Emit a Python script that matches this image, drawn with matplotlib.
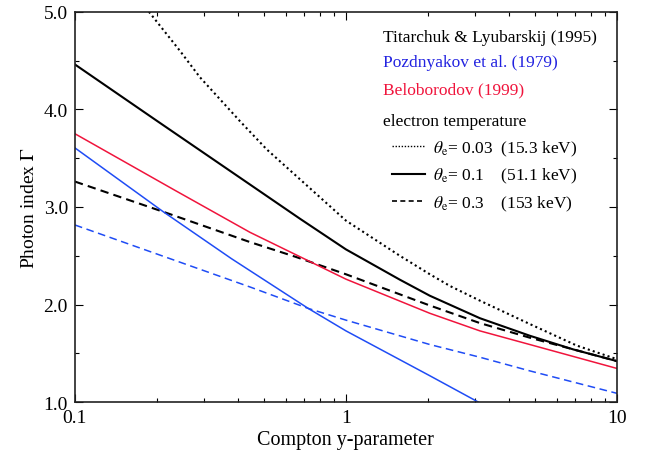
import matplotlib
matplotlib.use("Agg")
import matplotlib.pyplot as plt
from matplotlib.lines import Line2D
from matplotlib.ticker import FixedLocator, FuncFormatter, MultipleLocator, LogLocator

plt.rcParams["font.family"] = ["Liberation Serif", "DejaVu Serif"]
plt.rcParams["mathtext.fontset"] = "stix"

# Titarchuk & Lyubarskij (1995), three electron temperatures
tl_003_y = [0.1875, 0.244, 0.289, 0.406, 0.51, 1.0, 1.58, 2.04, 2.42, 3.12, 4.77, 7.1, 8.42, 10.0]
tl_003_g = [5.00, 4.60, 4.33, 3.88, 3.59, 2.86, 2.50, 2.31, 2.19, 2.04, 1.80, 1.58, 1.51, 1.44]
tl_01_y = [0.1, 0.2, 0.4424, 0.676, 1.0, 1.58, 2.04, 3.12, 4.77, 6.9, 10.0]
tl_01_g = [4.46, 3.885, 3.23, 2.88, 2.565, 2.255, 2.09, 1.86, 1.68, 1.54, 1.42]
tl_03_y = [0.1, 0.212, 0.4424, 0.65, 1.0, 2.04, 3.12, 4.77, 10.0]
tl_03_g = [3.26, 2.95, 2.64, 2.49, 2.31, 1.99, 1.81, 1.66, 1.42]

# Pozdnyakov et al. (1979)
pz_01_y = [0.1, 0.212, 0.378, 0.726, 1.0, 2.04, 3.08]
pz_01_g = [3.605, 2.95, 2.47, 1.96, 1.73, 1.27, 1.00]
pz_03_y = [0.1, 0.4424, 0.726, 1.0, 2.04, 3.12, 4.77, 10.0]
pz_03_g = [2.815, 2.18, 1.96, 1.84, 1.59, 1.46, 1.32, 1.09]

# Beloborodov (1999)
bb_01_y = [0.1, 0.234, 0.4424, 1.0, 2.04, 3.12, 4.77, 10.0]
bb_01_g = [3.75, 3.17, 2.74, 2.26, 1.91, 1.73, 1.59, 1.345]

BLUE = "#1f4cf5"
BLUE_TEXT = "#2222e0"
RED = "#f0143c"

fig = plt.figure(figsize=(6.46, 4.56), dpi=100)
ax = fig.add_axes([0.116, 0.116, 0.839, 0.856])

ax.plot(tl_003_y, tl_003_g, color="black", lw=1.5, linestyle=(0, (1, 1.5)))
ax.plot(tl_01_y, tl_01_g, color="black", lw=1.5)
ax.plot(tl_03_y, tl_03_g, color="black", lw=1.5, linestyle=(0, (4, 2.5)))
ax.plot(pz_01_y, pz_01_g, color=BLUE, lw=1.1)
ax.plot(pz_03_y, pz_03_g, color=BLUE, lw=1.1, linestyle=(0, (5, 3)))
ax.plot(bb_01_y, bb_01_g, color=RED, lw=1.1)

ax.set_xscale("log")
ax.set_xlim(0.1, 10)
ax.set_ylim(1.0, 5.0)
ax.xaxis.set_major_locator(FixedLocator([0.1, 1, 10]))
ax.xaxis.set_major_formatter(FuncFormatter(lambda v, p: f"{v:g}"))
ax.xaxis.set_minor_locator(LogLocator(base=10, subs=range(2, 10)))
ax.xaxis.set_minor_formatter(FuncFormatter(lambda v, p: ""))
ax.yaxis.set_major_locator(MultipleLocator(1.0))
ax.yaxis.set_minor_locator(MultipleLocator(0.5))
ax.yaxis.set_major_formatter(FuncFormatter(lambda v, p: f"{v:.1f}"))

ax.tick_params(which="both", direction="in", top=True, right=True, labelsize=14, width=0.8, pad=5)
ax.tick_params(which="major", length=6)
ax.tick_params(which="minor", length=3)
for s in ax.spines.values():
    s.set_linewidth(1.2)
    s.set_color("#222222")

ax.set_xlabel("Compton y-parameter", fontsize=14.5, labelpad=3)
ax.set_ylabel(r"Photon index $\Gamma$", fontsize=14, labelpad=4)

txt = dict(transform=ax.transAxes, fontsize=12.5, va="center", ha="left")
ax.text(0.568, 0.935, "Titarchuk & Lyubarskij (1995)", color="black", **txt)
ax.text(0.568, 0.871, "Pozdnyakov et al. (1979)", color=BLUE_TEXT, **txt)
ax.text(0.568, 0.802, "Beloborodov (1999)", color=RED, **txt)
ax.text(0.568, 0.72, "electron temperature", color="black", **txt)

handles = [
    Line2D([], [], color="black", lw=1.0, linestyle=(0, (1, 1.2))),
    Line2D([], [], color="black", lw=1.5),
    Line2D([], [], color="black", lw=1.2, linestyle=(0, (3, 2))),
]
labels = [
    r"$\theta_{\rm e}$= 0.03  (15.3 keV)",
    r"$\theta_{\rm e}$= 0.1    (51.1 keV)",
    r"$\theta_{\rm e}$= 0.3    (153 keV)",
]
ax.legend(handles, labels, loc="upper left", bbox_to_anchor=(0.585, 0.675), frameon=False,
          fontsize=12.5, handlelength=1.9, handletextpad=0.45, labelspacing=0.47, borderpad=0.0,
          borderaxespad=0.0)

fig.savefig("out.png", dpi=100)
